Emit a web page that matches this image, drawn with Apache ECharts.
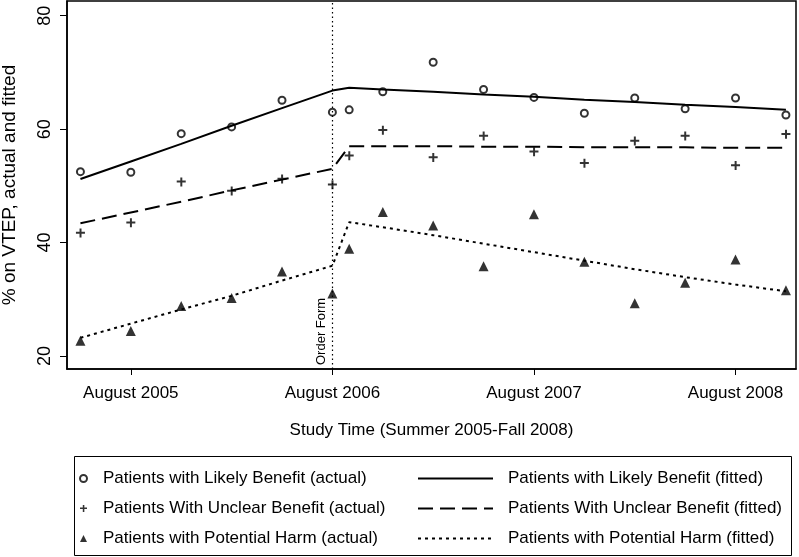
<!DOCTYPE html>
<html>
<head>
<meta charset="utf-8">
<script src="https://cdn.jsdelivr.net/npm/echarts@6/dist/echarts.min.js"></script>
<style>
    html, body {margin:0; padding:0; background:#fff;}
    #chart {width:799px; height:557px;}
</style>
</head>
<body>
<div id="chart"></div>
<script>
// months counted from August 2005
var months = [-3, 0, 3, 6, 9, 12, 13, 15, 18, 21, 24, 27, 30, 33, 36, 39];
var tickMonths = [0, 12, 24, 36];
var tickLabels = ['August 2005', 'August 2006', 'August 2007', 'August 2008'];
var yTicks = [20, 40, 60, 80];

var likelyActual = [52.5, 52.4, 59.2, 60.4, 65.1, 63.0, 63.4, 66.6, 71.8, 67.0, 65.6, 62.8, 65.5, 63.6, 65.5, 62.5];
var unclearActual = [41.7, 43.5, 50.7, 49.1, 51.2, 50.2, 55.3, 59.8, 55.0, 58.8, 56.0, 54.0, 57.9, 58.8, 53.6, 59.1];
var harmActual = [22.7, 24.4, 28.8, 30.2, 34.9, 31.0, 38.9, 45.4, 43.0, 35.8, 45.0, 36.6, 29.3, 32.9, 37.0, 31.6];

var likelyFitted = [51.2, 54.3, 57.4, 60.6, 63.7, 66.8, 67.3, 67.0, 66.6, 66.1, 65.7, 65.2, 64.8, 64.3, 63.9, 63.4];
var unclearFitted = [43.4, 45.3, 47.2, 49.2, 51.1, 53.0, 57.0, 57.0, 57.0, 56.9, 56.9, 56.8, 56.8, 56.8, 56.7, 56.7];
var harmFitted = [23.2, 25.7, 28.2, 30.6, 33.3, 35.9, 43.6, 42.7, 41.3, 39.8, 38.3, 36.8, 35.3, 33.9, 32.6, 31.4];

var seriesNames = [
    'Patients with Likely Benefit (actual)',
    'Patients With Unclear Benefit (actual)',
    'Patients with Potential Harm (actual)',
    'Patients with Likely Benefit (fitted)',
    'Patients With Unclear Benefit (fitted)',
    'Patients with Potential Harm (fitted)'
];

function pairs(ys) {
    return months.map(function (m, i) { return [m, ys[i]]; });
}

var plusPath = 'path://M4,0 H6.2 V3.6 H10 V5.8 H6.2 V10 H4 V5.8 H0 V3.6 H4 Z';
var fontFam = 'Liberation Sans, Arial, sans-serif';

var chart = echarts.init(document.getElementById('chart'));

var option = {
    animation: false,
    backgroundColor: '#fff',
    textStyle: {fontFamily: fontFam, color: '#000'},
    grid: {
        left: 67, top: 1, right: 3, bottom: 188,
        containLabel: false,
        outerBoundsMode: 'none',
        show: true,
        borderColor: '#000',
        borderWidth: 1.5,
        backgroundColor: 'transparent'
    },
    legend: [
        {
            orient: 'vertical',
            left: 74,
            top: 465,
            itemWidth: 7,
            itemHeight: 7,
            itemGap: 13,
            textStyle: {fontSize: 17, color: '#000', fontFamily: fontFam, padding: [0, 0, 0, 11]},
            data: seriesNames.slice(0, 3)
        },
        {
            orient: 'vertical',
            left: 412,
            top: 465,
            itemWidth: 75,
            itemHeight: 9,
            itemGap: 13,
            itemStyle: {opacity: 0},
            textStyle: {fontSize: 17, color: '#000', fontFamily: fontFam, padding: [0, 0, 0, 10]},
            data: seriesNames.slice(3)
        }
    ],
    graphic: [{
        type: 'rect',
        shape: {x: 74.5, y: 456.5, width: 717, height: 99},
        style: {fill: 'none', stroke: '#000', lineWidth: 1}
    }],
    xAxis: {
        type: 'value',
        min: -3.8,
        max: 39.6,
        name: 'Study Time (Summer 2005-Fall 2008)',
        nameLocation: 'middle',
        nameGap: 53,
        nameTextStyle: {fontSize: 17, color: '#000'},
        axisLine: {show: true, onZero: false, lineStyle: {color: '#000', width: 1.5}},
        axisTick: {show: true, length: 6, customValues: tickMonths, lineStyle: {color: '#000', width: 1}},
        axisLabel: {
            customValues: tickMonths,
            margin: 16,
            fontSize: 17,
            color: '#000',
            formatter: function (v) { return tickLabels[tickMonths.indexOf(v)]; }
        },
        splitLine: {show: false}
    },
    yAxis: {
        type: 'value',
        min: 17.7,
        max: 82.6,
        name: '% on VTEP, actual and fitted',
        nameLocation: 'middle',
        nameGap: 48,
        nameTextStyle: {fontSize: 19, color: '#000'},
        axisLine: {show: true, onZero: false, lineStyle: {color: '#000', width: 1.5}},
        axisTick: {show: true, length: 7, customValues: yTicks, lineStyle: {color: '#000', width: 1}},
        axisLabel: {customValues: yTicks, rotate: 90, margin: 13, fontSize: 18, color: '#000'},
        splitLine: {show: false}
    },
    series: [
        {
            name: seriesNames[0],
            type: 'scatter',
            symbol: 'emptyCircle',
            symbolSize: 7,
            itemStyle: {color: '#000', borderColor: '#000', borderWidth: 1.7},
            data: pairs(likelyActual)
        },
        {
            name: seriesNames[1],
            type: 'scatter',
            symbol: plusPath,
            symbolSize: 9,
            itemStyle: {color: '#000'},
            data: pairs(unclearActual)
        },
        {
            name: seriesNames[2],
            type: 'scatter',
            symbol: 'triangle',
            symbolSize: 10,
            itemStyle: {color: '#000'},
            data: pairs(harmActual)
        },
        {
            name: seriesNames[3],
            type: 'line',
            symbol: 'none',
            itemStyle: {color: '#000'},
            lineStyle: {color: '#000', width: 2, type: 'solid'},
            data: pairs(likelyFitted),
            markLine: {
                silent: true,
                symbol: ['none', 'none'],
                lineStyle: {color: '#000', width: 1.2, type: [1.5, 3]},
                label: {
                    show: true,
                    position: 'insideStartTop',
                    formatter: 'Order Form',
                    fontSize: 13,
                    color: '#000',
                    distance: 4
                },
                data: [{xAxis: 12}]
            }
        },
        {
            name: seriesNames[4],
            type: 'line',
            symbol: 'none',
            itemStyle: {color: '#000'},
            lineStyle: {color: '#000', width: 2, type: [15, 7]},
            data: pairs(unclearFitted)
        },
        {
            name: seriesNames[5],
            type: 'line',
            symbol: 'none',
            itemStyle: {color: '#000'},
            lineStyle: {color: '#000', width: 2, type: [3, 4]},
            data: pairs(harmFitted)
        }
    ]
};

chart.setOption(option);
</script>
</body>
</html>
